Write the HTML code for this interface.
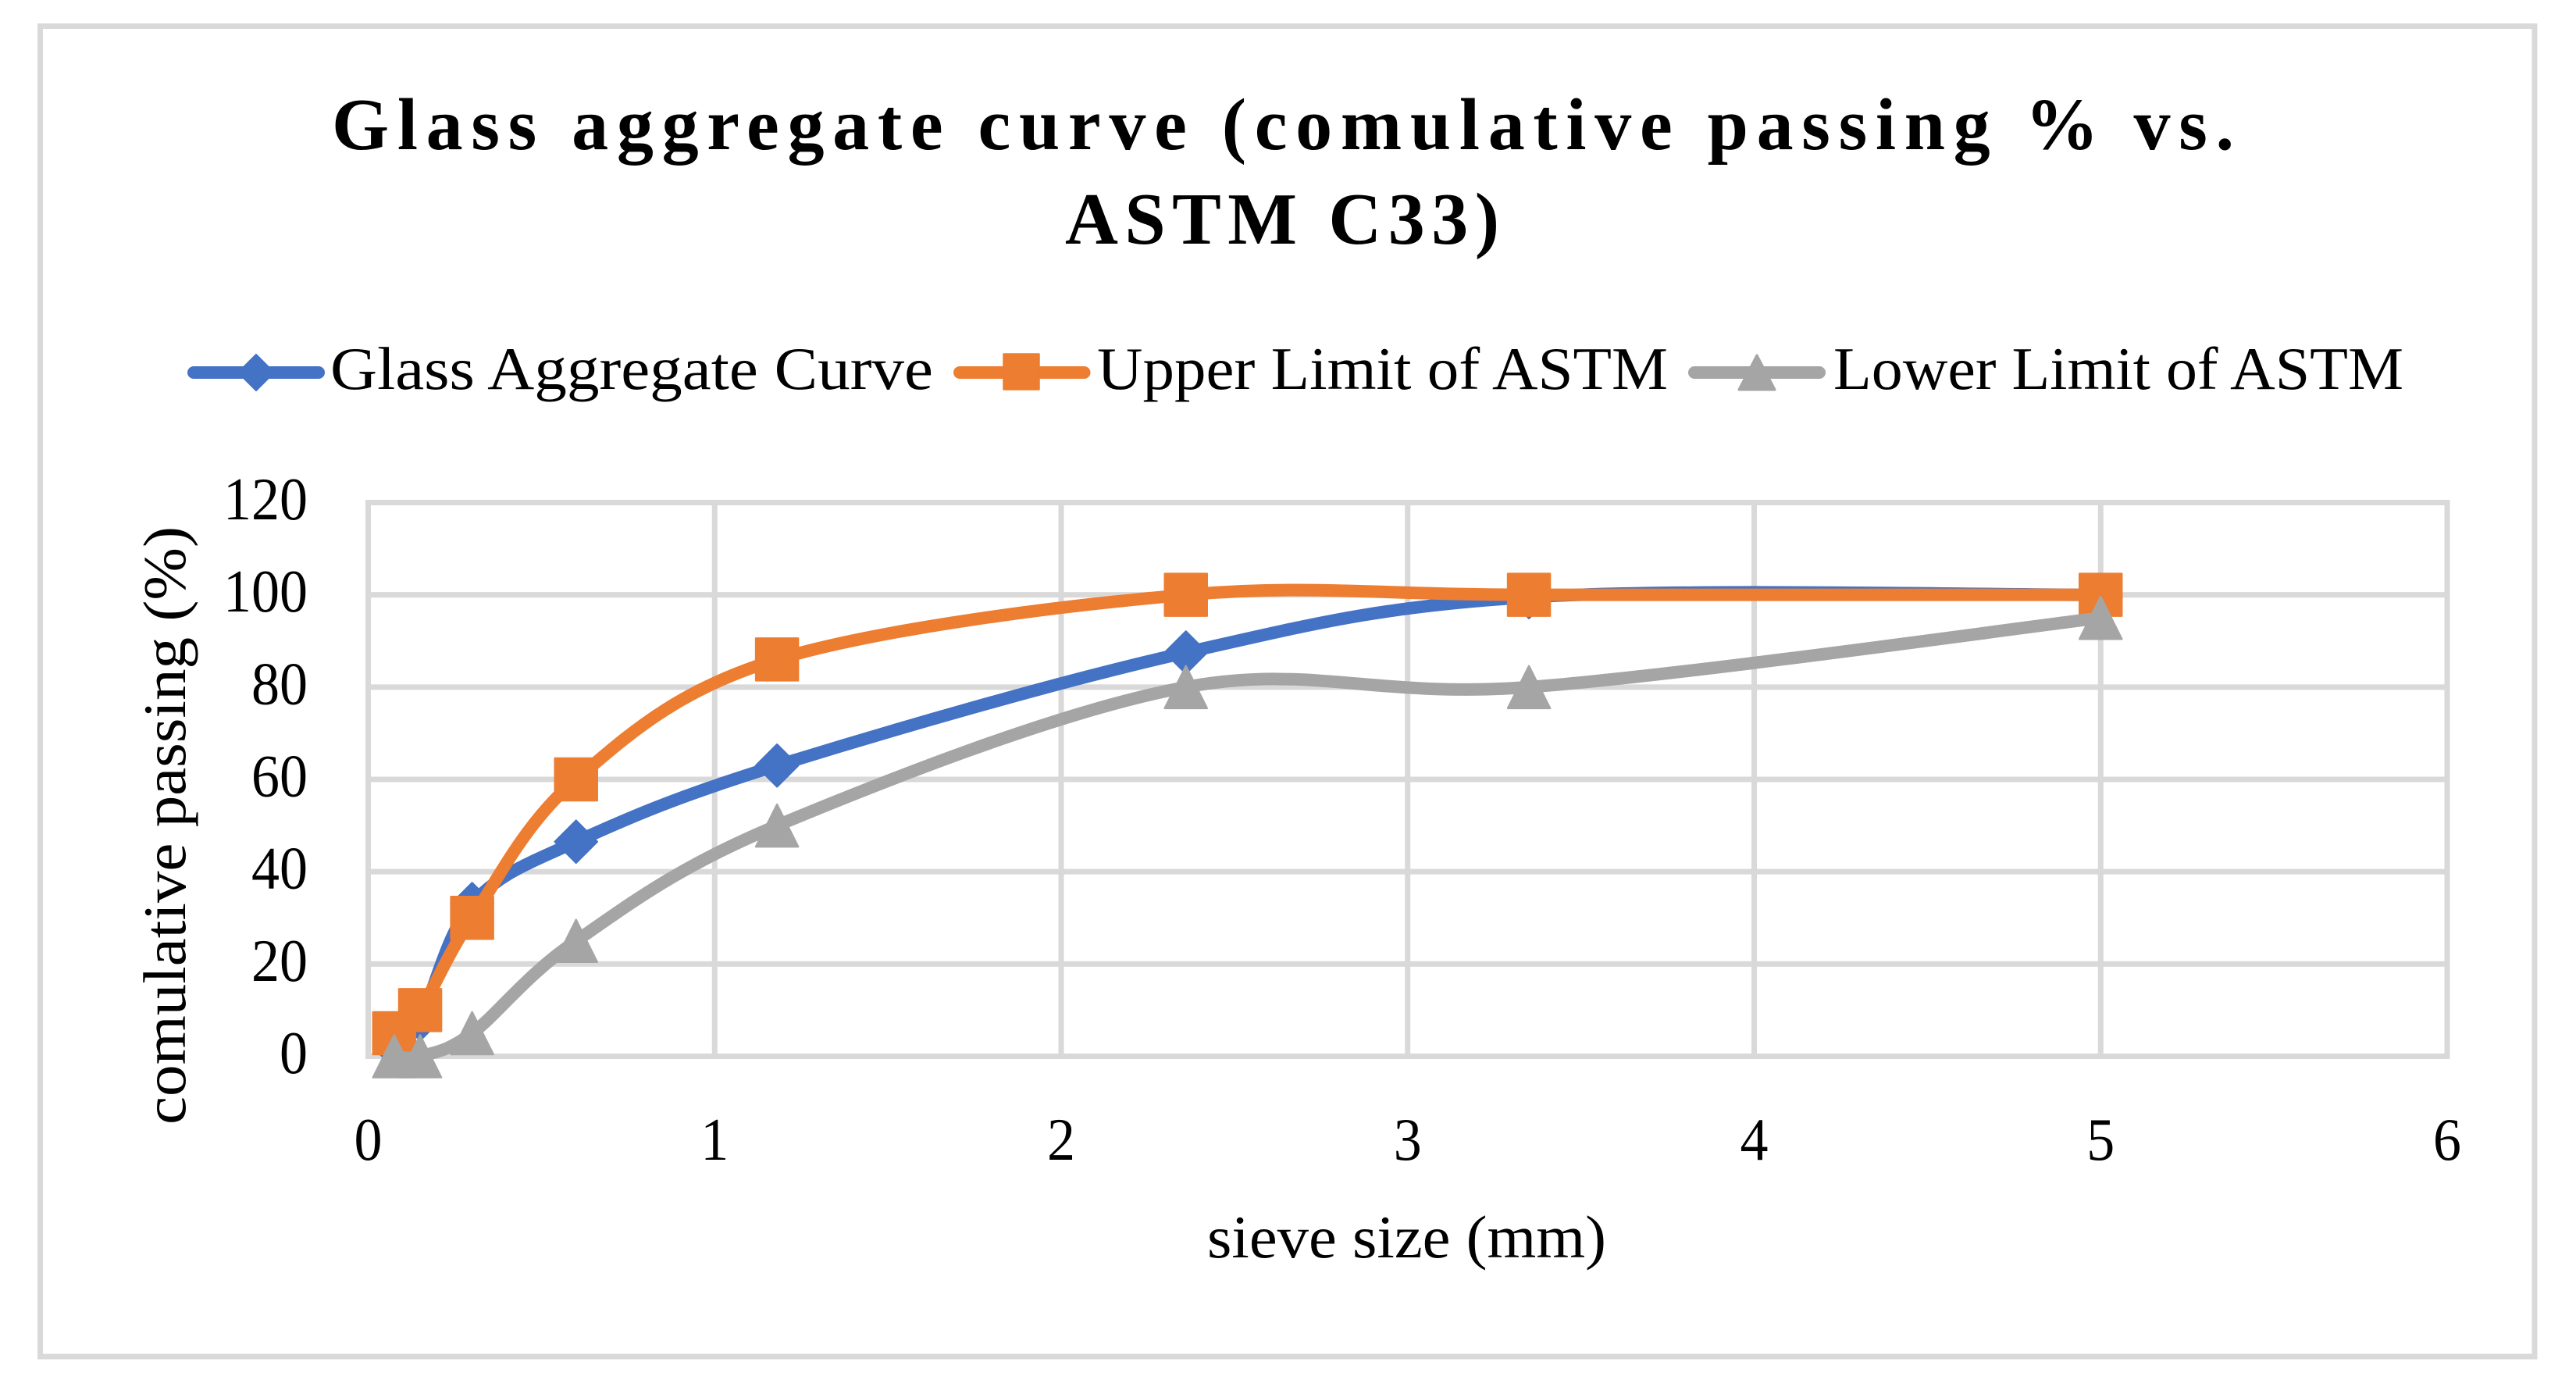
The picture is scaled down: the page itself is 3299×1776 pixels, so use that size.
<!DOCTYPE html>
<html lang="en">
<head>
<meta charset="utf-8">
<title>Glass aggregate curve</title>
<style>
html,body{margin:0;padding:0;background:#fff;width:3299px;height:1776px;overflow:hidden}
svg{display:block}
text{font-family:"Liberation Serif",serif;fill:#000}
</style>
</head>
<body>
<svg id="chart" xmlns="http://www.w3.org/2000/svg" width="3299" height="1776" viewBox="0 0 3299 1776">
  <rect x="0" y="0" width="3299" height="1776" fill="#fff"/>
  <g fill="#d9d9d9">
    <rect x="48" y="30" width="3201.5" height="7"/>
    <rect x="48" y="1733.5" width="3201.5" height="7"/>
    <rect x="48" y="30" width="7" height="1710.5"/>
    <rect x="3242.5" y="30" width="7" height="1710.5"/>
  </g>
  <g id="title" font-weight="700" font-size="94">
    <text x="425" y="191" textLength="2436" lengthAdjust="spacing">Glass aggregate curve (comulative passing % vs.</text>
    <text x="1364" y="312" textLength="556" lengthAdjust="spacing">ASTM C33)</text>
  </g>
  <g>
    <g>
      <line x1="248" y1="477" x2="408" y2="477" stroke="#4472C4" stroke-width="16" stroke-linecap="round"/>
      <polygon points="328,454 351,477 328,500 305,477" fill="#4472C4" stroke="#4472C4" stroke-width="2" stroke-linejoin="round"/>
      <text x="423" y="498" font-size="77" textLength="772" lengthAdjust="spacingAndGlyphs">Glass Aggregate Curve</text>
    </g>
    <g>
      <line x1="1229" y1="477" x2="1388.5" y2="477" stroke="#ED7D31" stroke-width="16" stroke-linecap="round"/>
      <rect x="1285.5" y="453.5" width="45" height="45" fill="#ED7D31" stroke="#ED7D31" stroke-width="2.5" stroke-linejoin="round"/>
      <text x="1405" y="498" font-size="77" textLength="731" lengthAdjust="spacingAndGlyphs">Upper Limit of ASTM</text>
    </g>
    <g>
      <line x1="2170" y1="477" x2="2330" y2="477" stroke="#A5A5A5" stroke-width="16" stroke-linecap="round"/>
      <polygon points="2250,455 2273,499 2227,499" fill="#A5A5A5" stroke="#A5A5A5" stroke-width="3" stroke-linejoin="round"/>
      <text x="2348" y="498" font-size="77" textLength="730" lengthAdjust="spacingAndGlyphs">Lower Limit of ASTM</text>
    </g>
  </g>
  <g id="grid"></g>
  <g id="ticks"></g>
  <g id="series"></g>
  <text x="1546" y="1610" font-size="77" textLength="511" lengthAdjust="spacingAndGlyphs">sieve size (mm)</text>
  <text transform="translate(237 1440) rotate(-90)" x="0" y="0" font-size="77" textLength="766" lengthAdjust="spacingAndGlyphs">comulative passing (%)</text>
</svg>
<script>
const sieveSizes = [0.075, 0.15, 0.3, 0.6, 1.18, 2.36, 3.35, 5];
const glassPassing = [2, 8, 33, 46.5, 63, 87.5, 99.5, 100];
const upperLimit = [5, 10, 30, 60, 86, 100, 100, 100];
const lowerLimit = [0, 0, 5, 25, 50, 80, 80, 95];
const xTickLabels = [0, 1, 2, 3, 4, 5, 6];
const yTickLabels = [0, 20, 40, 60, 80, 100, 120];

const NS = 'http://www.w3.org/2000/svg';
const plot = { left: 471.5, right: 3134, top: 643.5, bottom: 1352.5 };
const xMax = xTickLabels[xTickLabels.length - 1];
const yMax = yTickLabels[yTickLabels.length - 1];
function xScale(v) { return plot.left + (v / xMax) * (plot.right - plot.left); }
function yScale(v) { return plot.bottom - (v / yMax) * (plot.bottom - plot.top); }
function mk(tag, parent, attrs) {
  const el = document.createElementNS(NS, tag);
  for (const k in attrs) el.setAttribute(k, attrs[k]);
  parent.appendChild(el);
  return el;
}

const gridLayer = document.getElementById('grid');
const tickLayer = document.getElementById('ticks');
const seriesLayer = document.getElementById('series');

xTickLabels.forEach(function (t) {
  const g = mk('rect', gridLayer, { x: xScale(t) - 3.5, y: plot.top - 3.5, width: 7, height: plot.bottom - plot.top + 7, fill: '#d9d9d9' });
  
  
  const l = mk('text', tickLayer, { x: xScale(t), y: 1485, 'font-size': 77, 'text-anchor': 'middle', textLength: 36, lengthAdjust: 'spacingAndGlyphs' });
  
  
  l.textContent = String(t);
});
yTickLabels.forEach(function (t) {
  const g = mk('rect', gridLayer, { x: plot.left - 3.5, y: yScale(t) - 3.5, width: plot.right - plot.left + 7, height: 7, fill: '#d9d9d9' });
  
  
  const s = String(t);
  const l = mk('text', tickLayer, { x: 394, y: yScale(t) + 21.5, 'font-size': 77, 'text-anchor': 'end', textLength: s.length * 36, lengthAdjust: 'spacingAndGlyphs' });
  
  
  l.textContent = s;
});

function smoothPath(xs, ys) {
  const p = xs.map(function (x, i) { return [xScale(x), yScale(ys[i])]; });
  let d = 'M' + p[0][0] + ' ' + p[0][1];
  for (let i = 0; i < p.length - 1; i++) {
    const p0 = p[Math.max(i - 1, 0)], p1 = p[i], p2 = p[i + 1], p3 = p[Math.min(i + 2, p.length - 1)];
    const c1x = p1[0] + (p2[0] - p0[0]) / 6, c1y = p1[1] + (p2[1] - p0[1]) / 6;
    const c2x = p2[0] - (p3[0] - p1[0]) / 6, c2y = p2[1] - (p3[1] - p1[1]) / 6;
    d += ' C' + c1x + ' ' + c1y + ' ' + c2x + ' ' + c2y + ' ' + p2[0] + ' ' + p2[1];
  }
  return d;
}

function drawMarker(kind, cx, cy, color, parent) {
  const r = 27;
  let el;
  if (kind === 'diamond') {
    el = mk('polygon', parent, { points: [cx, cy - r, cx + r, cy, cx, cy + r, cx - r, cy].join(' ') });
  } else if (kind === 'square') {
    el = mk('rect', parent, { x: cx - r, y: cy - r, width: 2 * r, height: 2 * r });
  } else {
    el = mk('polygon', parent, { points: [cx, cy - r, cx + r, cy + r, cx - r, cy + r].join(' ') });
  }
  el.setAttribute('fill', color);
  el.setAttribute('stroke', color);
  el.setAttribute('stroke-width', 2.5);
  el.setAttribute('stroke-linejoin', 'round');
  
  
}

function drawSeries(name, values, color, kind) {
  const group = mk('g', seriesLayer, {});
  
  
  const line = mk('path', group, { d: smoothPath(sieveSizes, values), fill: 'none', stroke: color, 'stroke-width': 16, 'stroke-linecap': 'round', 'stroke-linejoin': 'round' });
  
  
  values.forEach(function (v, i) {
    drawMarker(kind, xScale(sieveSizes[i]), yScale(v), color, group);
  });
}

drawSeries('glass-aggregate', glassPassing, '#4472C4', 'diamond');
drawSeries('upper-limit', upperLimit, '#ED7D31', 'square');
drawSeries('lower-limit', lowerLimit, '#A5A5A5', 'triangle');
</script>
</body>
</html>
